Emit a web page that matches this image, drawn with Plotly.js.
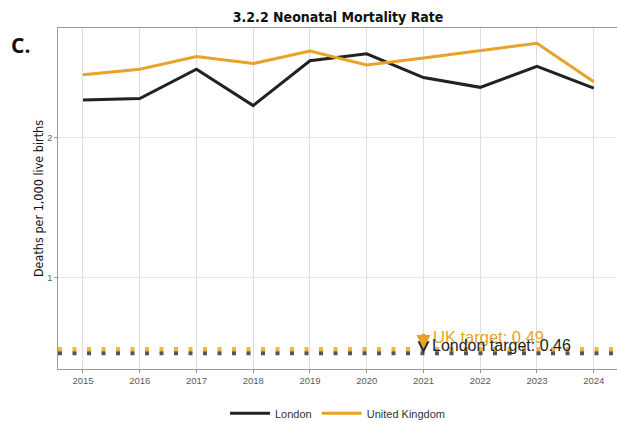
<!DOCTYPE html>
<html>
<head>
<meta charset="utf-8">
<script src="https://cdn.plot.ly/plotly-3.0.1.min.js"></script>
<style>html,body{margin:0;padding:0;background:#fff;}#chart{width:617px;height:422px;}</style>
</head>
<body>
<div id="chart"></div>
<script>
var years = [2015, 2016, 2017, 2018, 2019, 2020, 2021, 2022, 2023, 2024];
var london = [2.27, 2.28, 2.49, 2.23, 2.55, 2.60, 2.43, 2.36, 2.51, 2.355];
var uk = [2.45, 2.49, 2.58, 2.53, 2.62, 2.52, 2.57, 2.62, 2.675, 2.40];
var londonTarget = 0.46;
var ukTarget = 0.49;
var targetYear = 2021;
var seriesNames = ["London", "United Kingdom"];
var xRange = [2014.56, 2024.41];
var yRange = [0.348, 2.784];

var colBlack = "#222222";
var colOrange = "#E8A228";

var traces = [
  {x: xRange, y: [londonTarget, londonTarget], mode: "lines", showlegend: false, hoverinfo: "skip",
   line: {color: "#555555", width: 4, dash: "4px,10.5px"}},
  {x: xRange, y: [ukTarget, ukTarget], mode: "lines", showlegend: false, hoverinfo: "skip",
   line: {color: "#F0B445", width: 4, dash: "4px,10.5px"}},
  {x: years, y: london, mode: "lines", name: seriesNames[0], line: {color: colBlack, width: 3}},
  {x: years, y: uk, mode: "lines", name: seriesNames[1], line: {color: colOrange, width: 3}}
];

var condFont = "DejaVu Sans Condensed";

var layout = {
  width: 617, height: 422,
  margin: {l: 58, r: 0, t: 28, b: 53, pad: 0, autoexpand: false},
  paper_bgcolor: "#ffffff", plot_bgcolor: "#ffffff",
  title: {text: "3.2.2 Neonatal Mortality Rate", x: 0.548, xanchor: "center", y: 0.96, yanchor: "middle",
          font: {family: condFont, size: 14, color: "#111111", weight: "bold"}},
  xaxis: {range: xRange, tickvals: years, ticktext: years.map(String), showgrid: true, gridcolor: "#dddddd", gridwidth: 1,
          zeroline: false, showline: true, linecolor: "#999999", linewidth: 1, mirror: true,
          ticks: "outside", ticklen: 3, tickcolor: "#999999",
          tickfont: {family: "Liberation Sans", size: 9.5, color: "#5a5a5a"}},
  yaxis: {range: yRange, tickvals: [1, 2], ticktext: ["1", "2"], showgrid: true, gridcolor: "#e6e6e6", gridwidth: 1,
          zeroline: false, showline: true, linecolor: "#999999", linewidth: 1,
          ticks: "outside", ticklen: 3, tickcolor: "#999999",
          tickfont: {family: "Liberation Sans", size: 9, color: "#5a5a5a"},
          title: {text: "Deaths per 1,000 live births", standoff: 0,
                  font: {family: condFont, size: 12.5, color: "#111111"}}},
  showlegend: true,
  legend: {orientation: "h", x: 0.5, xanchor: "center", y: -0.13, yanchor: "middle",
           font: {family: "Liberation Sans", size: 11, color: "#333333"}, itemwidth: 40, traceorder: "normal"},
  annotations: [
    {x: targetYear, y: londonTarget, xref: "x", yref: "y", ax: targetYear, ay: 0.56, axref: "x", ayref: "y",
     text: "", showarrow: true, arrowhead: 2, arrowsize: 0.8, arrowwidth: 3, arrowcolor: colBlack},
    {x: targetYear, y: ukTarget, xref: "x", yref: "y", ax: targetYear, ay: 0.61, axref: "x", ayref: "y",
     text: "", showarrow: true, arrowhead: 2, arrowsize: 0.8, arrowwidth: 3.5, arrowcolor: colOrange},
    {x: targetYear, y: ukTarget, xref: "x", yref: "y", xanchor: "left", yanchor: "middle", xshift: 8, yshift: 12,
     text: "UK target: " + ukTarget.toFixed(2), showarrow: false,
     font: {family: "Liberation Sans", size: 16.5, color: colOrange}},
    {x: targetYear, y: londonTarget, xref: "x", yref: "y", xanchor: "left", yanchor: "middle", xshift: 7, yshift: 8,
     text: "London target: " + londonTarget.toFixed(2), showarrow: false,
     font: {family: "Liberation Sans", size: 16, color: colBlack}},
    {x: -0.088, y: 0.95, xref: "paper", yref: "paper", xanchor: "left", yanchor: "middle",
     text: "<b>C.</b>", showarrow: false, font: {family: "Open Sans", size: 21, color: "#111111"}}
  ]
};

Plotly.newPlot("chart", traces, layout, {staticPlot: true, displayModeBar: false});
</script>
</body>
</html>
